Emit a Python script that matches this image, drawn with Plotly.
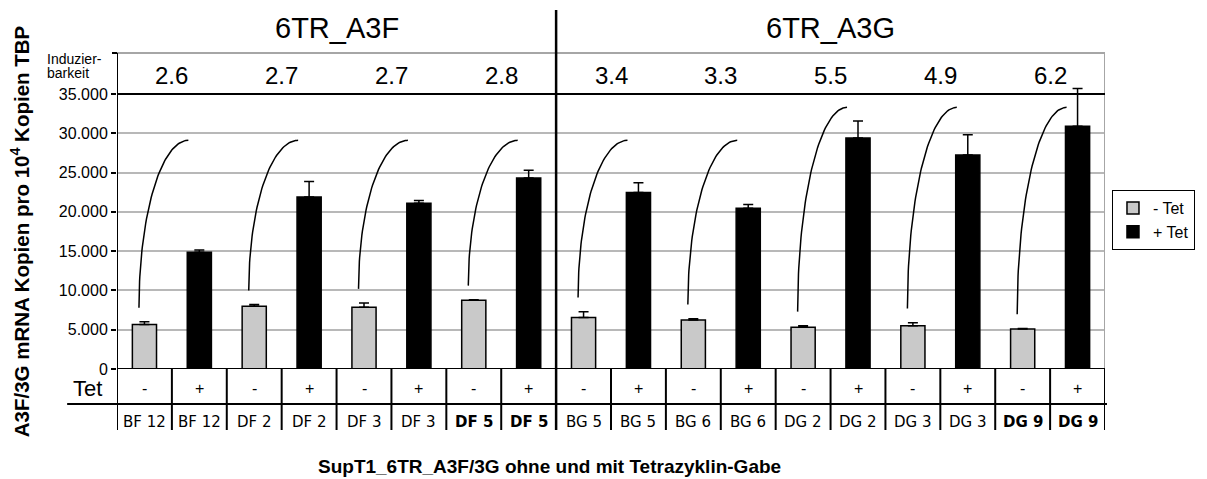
import numpy as np
import plotly.graph_objects as go

# ---------------- data ----------------
samples = ["BF 12", "DF 2", "DF 3", "DF 5", "BG 5", "BG 6", "DG 2", "DG 3", "DG 9"]
bold_samples = ["DF 5", "DG 9"]
minus_tet = [5650, 8000, 7850, 8750, 6550, 6250, 5300, 5500, 5100]
minus_err = [350, 200, 550, 60, 750, 150, 200, 400, 60]
plus_tet = [14850, 21900, 21100, 24300, 22450, 20450, 29400, 27250, 30900]
plus_err = [300, 1950, 350, 1000, 1250, 500, 2150, 2550, 4800]
induzierbarkeit = ["2.6", "2.7", "2.7", "2.8", "3.4", "3.3", "5.5", "4.9", "6.2"]
group_titles = ["6TR_A3F", "6TR_A3G"]
group_sizes = [4, 5]
arc_top_level = [29100, 29100, 29100, 29100, 29100, 29100, 33300, 33300, 33300]
y_ticks = [0, 5000, 10000, 15000, 20000, 25000, 30000, 35000]
legend_names = ["- Tet", "+ Tet"]
tet_signs = ["-", "+"]

# ---------------- layout geometry ----------------
W, H = 1207, 479
L, R, T, B = 117, 99, 53, 110
PH = H - T - B
Y_TOP = 35000 * PH / 275.0


def py(pix):  # pixel y -> paper y
    return (H - B - pix) / PH


def px(pix):  # pixel x -> paper x
    return (pix - L) / (W - L - R)


n = len(samples)
x_minus = [2 * i for i in range(n)]
x_plus = [2 * i + 1 for i in range(n)]

SANS = "Liberation Sans, Arial, sans-serif"
DEJA = "DejaVu Sans, Verdana, sans-serif"

fig = go.Figure()
fig.add_trace(go.Bar(
    x=x_minus, y=minus_tet, width=0.44, name=legend_names[0],
    marker=dict(color="#c9c9c9", line=dict(color="black", width=1.5)),
    error_y=dict(type="data", symmetric=False, array=minus_err, arrayminus=[0] * n,
                 color="black", thickness=1.5, width=5),
))
fig.add_trace(go.Bar(
    x=x_plus, y=plus_tet, width=0.44, name=legend_names[1],
    marker=dict(color="black", line=dict(color="black", width=1.5)),
    error_y=dict(type="data", symmetric=False, array=plus_err, arrayminus=[0] * n,
                 color="black", thickness=1.5, width=5),
))

# arcs from each "-" bar to its "+" partner
theta = np.linspace(0, np.pi / 2, 60)
for i in range(n):
    x0, x1 = x_minus[i] - 0.1, x_plus[i] - 0.2
    y0, y1 = minus_tet[i] + minus_err[i] + 1800, arc_top_level[i]
    fig.add_trace(go.Scatter(
        x=x0 + (x1 - x0) * (1 - np.cos(theta)), y=y0 + (y1 - y0) * np.sin(theta),
        mode="lines", line=dict(color="black", width=1.5), showlegend=False, hoverinfo="skip"))

shapes = []
# gray frame (top + right)
shapes.append(dict(type="line", xref="x", yref="paper", x0=-0.5, x1=2 * n - 0.5, y0=1, y1=1,
                   line=dict(color="#a6a6a6", width=2)))
shapes.append(dict(type="line", xref="x", yref="paper", x0=2 * n - 0.5, x1=2 * n - 0.5, y0=0, y1=1,
                   line=dict(color="#a6a6a6", width=2)))
# tick at the top of the axis
shapes.append(dict(type="line", xref="paper", yref="paper", x0=px(112), x1=0, y0=1, y1=1,
                   line=dict(color="black", width=2)))
# black 35.000 line
shapes.append(dict(type="line", xref="x", yref="y", x0=-0.5, x1=2 * n - 0.5, y0=35000, y1=35000,
                   line=dict(color="black", width=2)))
# x axis line (0)
shapes.append(dict(type="line", xref="x", yref="y", x0=-0.5, x1=2 * n - 0.5 + 0.03, y0=0, y1=0,
                   line=dict(color="black", width=2)))
# Tet row bottom line
shapes.append(dict(type="line", xref="paper", yref="paper", x0=px(67), x1=px(1110),
                   y0=py(404), y1=py(404), line=dict(color="black", width=2)))
# separators
for k in range(2 * n + 1):
    xk = k - 0.5
    if k == 0:
        shapes.append(dict(type="line", xref="x", yref="paper", x0=xk, x1=xk, y0=1, y1=py(430),
                           line=dict(color="black", width=2)))
    elif k == 2 * group_sizes[0]:
        shapes.append(dict(type="line", xref="x", yref="paper", x0=xk, x1=xk, y0=py(10), y1=py(430),
                           line=dict(color="black", width=2.5)))
    else:
        shapes.append(dict(type="line", xref="x", yref="paper", x0=xk, x1=xk, y0=0, y1=py(430),
                           line=dict(color="black", width=2)))

ann = []


def add_text(x, y, text, font, xref="x", yref="paper", xanchor="center", **kw):
    ann.append(dict(x=x, y=y, xref=xref, yref=yref, text=text, showarrow=False,
                    xanchor=xanchor, yanchor="middle", font=font, **kw))


# group titles
start = 0
for title, size in zip(group_titles, group_sizes):
    add_text(start + size - 0.5, py(28), title, dict(family=SANS, size=29, color="black"))
    start += 2 * size
# induzierbarkeit values
for i in range(n):
    add_text(x_minus[i] + 0.5, py(75), induzierbarkeit[i], dict(family=SANS, size=24, color="black"))
add_text(px(45), py(59), "Induzier-", dict(family=SANS, size=14, color="black"),
         xref="paper", xanchor="left")
add_text(px(45), py(73), "barkeit", dict(family=SANS, size=14, color="black"),
         xref="paper", xanchor="left")
# Tet row
add_text(px(71), py(389), "Tet", dict(family=SANS, size=22, color="black"),
         xref="paper", xanchor="left")
for i in range(n):
    for xv, s in zip((x_minus[i], x_plus[i]), tet_signs):
        add_text(xv, py(388), s, dict(family=SANS, size=16, color="black"))
        lab = samples[i]
        txt = f"<b>{lab}</b>" if lab in bold_samples else lab
        add_text(xv, py(422), txt, dict(family=DEJA, size=15, color="black"))
# axis titles
add_text(px(20), py(231), "<b>A3F/3G mRNA Kopien pro 10<sup>4</sup> Kopien TBP</b>",
         dict(family=SANS, size=20.5, color="black"), xref="paper", textangle=-90)
add_text(px(551), py(466), "<b>SupT1_6TR_A3F/3G ohne und mit Tetrazyklin-Gabe</b>",
         dict(family=SANS, size=19, color="black"), xref="paper")

fig.update_layout(
    width=W, height=H, margin=dict(l=L, r=R, t=T, b=B),
    paper_bgcolor="white", plot_bgcolor="white",
    barmode="overlay", showlegend=True,
    legend=dict(x=px(1115), y=py(190), xanchor="left", yanchor="top",
                bordercolor="black", borderwidth=1, bgcolor="white",
                font=dict(family=SANS, size=16, color="black"), tracegroupgap=0,
                itemwidth=30),
    xaxis=dict(range=[-0.5, 2 * n - 0.5], showgrid=False, zeroline=False, showline=False,
               showticklabels=False, ticks=""),
    yaxis=dict(range=[0, Y_TOP], tickvals=y_ticks,
               ticktext=[f"{v:,}".replace(",", ".") for v in y_ticks],
               ticks="outside", ticklen=5, tickwidth=2, tickcolor="black",
               showgrid=True, gridcolor="#b8b8b8", gridwidth=2, zeroline=False,
               showline=False, tickfont=dict(family=SANS, size=16, color="black")),
    shapes=shapes, annotations=ann,
)

fig.write_html("out.html")
